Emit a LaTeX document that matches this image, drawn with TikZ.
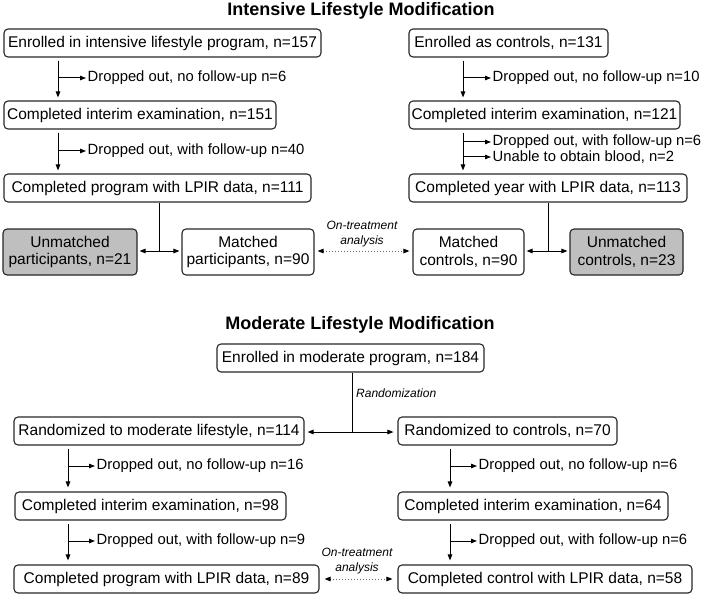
\documentclass[tikz,border=0pt]{standalone}
\usepackage{fontspec}
\setmainfont{Liberation Sans}
\usetikzlibrary{arrows.meta}
\begin{document}
\begin{tikzpicture}[x=1pt,y=-1pt,
  every node/.style={font=\fontsize{15.5}{17}\selectfont},
  box/.style={draw=black!85,line width=1.1pt,rounded corners=4pt,inner sep=0pt,align=center},
  graybox/.style={box,fill=black!25,font=\fontsize{15.5}{17.5}\selectfont},
  whitebox/.style={box,font=\fontsize{15.5}{17.5}\selectfont},
  lbl/.style={anchor=west,inner sep=1.5pt,font=\fontsize{14.8}{17}\selectfont},
  ttl/.style={font=\bfseries\fontsize{18}{20}\selectfont},
  itl/.style={font=\itshape\fontsize{12}{15}\selectfont,align=center,inner sep=0pt},
  arr/.style={line width=1pt,-{Triangle[length=6pt,width=4.5pt]}},
  ln/.style={line width=1pt},
  dotarr/.style={line width=1pt,draw=black!60,dotted,{Triangle[length=6pt,width=4.5pt,fill=black,color=black]}-{Triangle[length=6pt,width=4.5pt,fill=black,color=black]}}
]
\useasboundingbox (0,0) rectangle (709,596);

% ---------- Intensive ----------
\node[ttl] (t1) at (361,11) {Intensive Lifestyle Modification};

\node[box,minimum width=317pt,minimum height=28pt] (A1) at (162.5,43) {Enrolled in intensive lifestyle program, n=157};
\node[box,minimum width=272pt,minimum height=28pt] (A2) at (140,115) {Completed interim examination, n=151};
\node[box,minimum width=307pt,minimum height=28pt] (A3) at (157.5,188) {Completed program with LPIR data, n=111};
\node[graybox,minimum width=134pt,minimum height=46pt] (U1) at (70,252) {Unmatched\\participants, n=21};
\node[whitebox,minimum width=132pt,minimum height=46pt] (M1) at (248,252) {Matched\\participants, n=90};

\node[box,minimum width=199pt,minimum height=28pt] (B1) at (508.5,43) {Enrolled as controls, n=131};
\node[box,minimum width=271pt,minimum height=28pt] (B2) at (544.5,115) {Completed interim examination, n=121};
\node[box,minimum width=278pt,minimum height=28pt] (B3) at (548,188) {Completed year with LPIR data, n=113};
\node[whitebox,minimum width=111pt,minimum height=46pt] (M2) at (468.5,252) {Matched\\controls, n=90};
\node[graybox,minimum width=113pt,minimum height=46pt] (U2) at (626.5,252) {Unmatched\\controls, n=23};

\coordinate (xa) at (58,0);
\coordinate (xb) at (463,0);

\node[lbl] (a1d) at (86,78) {Dropped out, no follow-up n=6};
\node[lbl] (a2d) at (86,151) {Dropped out, with follow-up n=40};
\node[lbl] (b1d) at (491,78) {Dropped out, no follow-up n=10};
\node[lbl] (b2d) at (491,142) {Dropped out, with follow-up n=6};
\node[lbl] (b2u) at (491,157) {Unable to obtain blood, n=2};

\draw[arr,shorten <=3pt,shorten >=3pt] (A1.south -| xa) -- (A2.north -| xa);
\draw[arr] (xa |- a1d.west) -- (a1d.west);
\draw[arr,shorten <=3pt,shorten >=3pt] (A2.south -| xa) -- (A3.north -| xa);
\draw[arr] (xa |- a2d.west) -- (a2d.west);

\draw[arr,shorten <=3pt,shorten >=3pt] (B1.south -| xb) -- (B2.north -| xb);
\draw[arr] (xb |- b1d.west) -- (b1d.west);
\draw[arr,shorten <=3pt,shorten >=3pt] (B2.south -| xb) -- (B3.north -| xb);
\draw[arr] (xb |- b2d.west) -- (b2d.west);
\draw[arr] (xb |- b2u.west) -- (b2u.west);

\coordinate (j1) at (159,251);
\coordinate (j2) at (548,251);
\draw[ln] (A3.south -| j1) -- (j1);
\draw[arr,shorten >=2pt] (j1) -- (U1.east |- j1);
\draw[arr,shorten >=2pt] (j1) -- (M1.west |- j1);
\draw[ln] (B3.south -| j2) -- (j2);
\draw[arr,shorten >=2pt] (j2) -- (M2.east |- j2);
\draw[arr,shorten >=2pt] (j2) -- (U2.west |- j2);

\draw[dotarr,shorten <=3pt,shorten >=3pt] (M1.east |- j1) -- (M2.west |- j1);
\node[itl] (ot1) at (362,234) {On-treatment\\analysis};

% ---------- Moderate ----------
\node[ttl] (t2) at (360,325) {Moderate Lifestyle Modification};

\node[box,minimum width=267pt,minimum height=28pt] (C0) at (350.5,358) {Enrolled in moderate program, n=184};
\node[box,minimum width=290pt,minimum height=28pt] (D1) at (159,431) {Randomized to moderate lifestyle, n=114};
\node[box,minimum width=219pt,minimum height=28pt] (E1) at (507.5,431) {Randomized to controls, n=70};
\node[box,minimum width=271pt,minimum height=28pt] (D2) at (150.5,506) {Completed interim examination, n=98};
\node[box,minimum width=270pt,minimum height=28pt] (E2) at (533,506) {Completed interim examination, n=64};
\node[box,minimum width=305pt,minimum height=28pt] (D3) at (166.5,579) {Completed program with LPIR data, n=89};
\node[box,minimum width=294pt,minimum height=28pt] (E3) at (545,579) {Completed control with LPIR data, n=58};

\coordinate (jr) at (352,432);
\draw[ln] (C0.south -| jr) -- (jr);
\draw[arr,shorten >=3pt] (jr) -- (D1.east |- jr);
\draw[arr,shorten >=4pt] (jr) -- (E1.west |- jr);
\node[itl,anchor=west] (rnd) at (356,393) {Randomization};

\coordinate (xd) at (68,0);
\coordinate (xe) at (450,0);
\node[lbl] (d1d) at (95,466) {Dropped out, no follow-up n=16};
\node[lbl] (d2d) at (95,541) {Dropped out, with follow-up n=9};
\node[lbl] (e1d) at (477,466) {Dropped out, no follow-up n=6};
\node[lbl] (e2d) at (477,541) {Dropped out, with follow-up n=6};

\draw[arr,shorten <=3pt,shorten >=4pt] (D1.south -| xd) -- (D2.north -| xd);
\draw[arr] (xd |- d1d.west) -- (d1d.west);
\draw[arr,shorten <=3pt,shorten >=4pt] (D2.south -| xd) -- (D3.north -| xd);
\draw[arr] (xd |- d2d.west) -- (d2d.west);
\draw[arr,shorten <=3pt,shorten >=4pt] (E1.south -| xe) -- (E2.north -| xe);
\draw[arr] (xe |- e1d.west) -- (e1d.west);
\draw[arr,shorten <=3pt,shorten >=4pt] (E2.south -| xe) -- (E3.north -| xe);
\draw[arr] (xe |- e2d.west) -- (e2d.west);

\draw[dotarr,shorten <=5pt,shorten >=5pt] (D3.east) -- (E3.west);
\node[itl] (ot2) at (357,561) {On-treatment\\analysis};
\end{tikzpicture}
\end{document}
